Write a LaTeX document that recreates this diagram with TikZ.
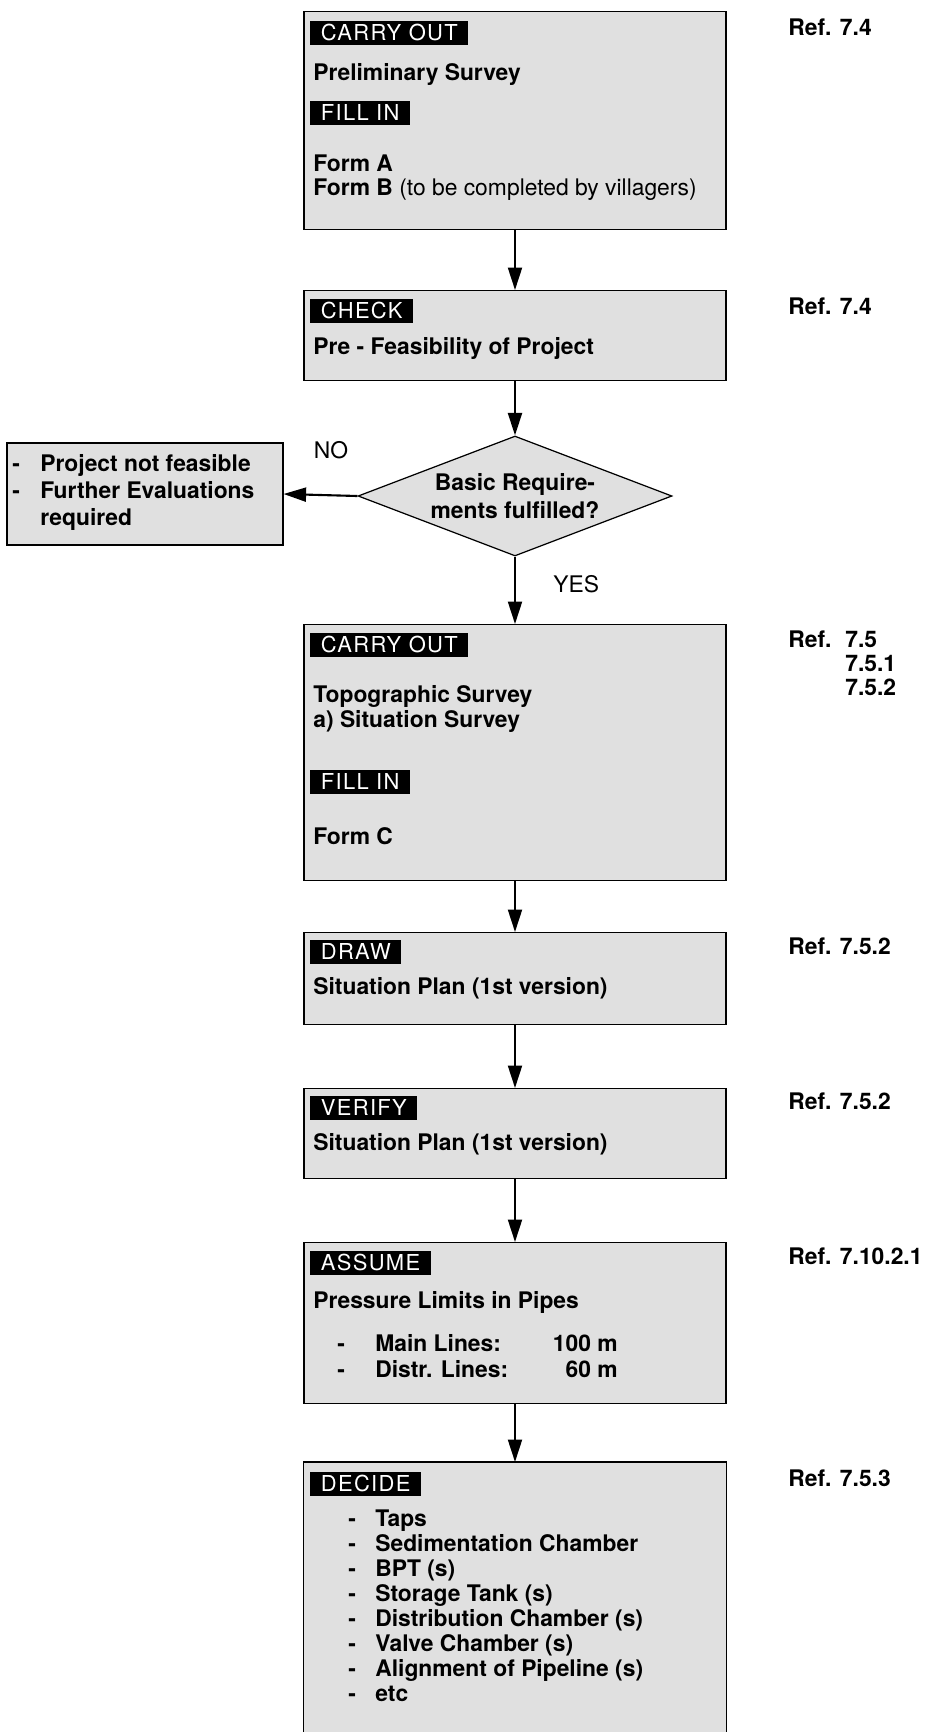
\documentclass[tikz,border=0pt]{standalone}
\usepackage{fontspec}
\setmainfont{TeX Gyre Heros}
\newfontfamily\tagfont[LetterSpace=6]{TeX Gyre Heros}
\usetikzlibrary{arrows.meta,shapes.geometric}
\definecolor{stipple}{gray}{0.88}
\tikzset{
panel/.style={
	draw=black,
	line width=0.7pt,
	fill=stipple,
	inner sep=0pt,
	minimum width=8.44cm,
	anchor=north
},
tagbox/.style={fill=black, text=white, font=\tagfont\fontsize{12.5}{15}\selectfont,
	anchor=west, inner xsep=6pt, inner ysep=2.4pt, text height=9pt, text depth=0pt},
body/.style={font=\bfseries\fontsize{13}{15.5}\selectfont, anchor=mid west, inner sep=0pt},
plain/.style={font=\fontsize{13}{15.5}\selectfont, anchor=mid west, inner sep=0pt},
refnote/.style={font=\bfseries\fontsize{13}{15.5}\selectfont, anchor=mid west, inner sep=0pt},
flowarrow/.style={-{Triangle[length=4.5mm,width=2.8mm]}, line width=1.2pt, draw=black}
}

\begin{document}
\begin{tikzpicture}[x=0.02cm,y=-0.02cm]
\useasboundingbox (0,0) rectangle (928,1732);

% ── Preliminary survey ─────────────────────────────────────────
\node[panel, minimum height=4.36cm] (survey) at (515,11) {};
\node[tagbox] (carryA) at (310,33) {CARRY OUT};
\node[body] (prelim) at (313,76) {Preliminary Survey};
\node[tagbox] (fillA) at (310,113) {FILL IN};
\node[body] (formA) at (313,167) {Form A};
\node[body] (formB) at (313,191) {Form B {\mdseries (to be completed by villagers)}};
\node[refnote] (refA) at (788,31) {Ref. 7.4};

% ── Check ──────────────────────────────────────────────────────
\node[panel, minimum height=1.8cm] (check) at (515,290) {};
\node[tagbox] (checktag) at (310,311) {CHECK};
\node[body] (prefeas) at (313,350) {Pre - Feasibility of Project};
\node[refnote] (refB) at (788,310) {Ref. 7.4};

% ── Decision ───────────────────────────────────────────────────
\node[diamond, draw=black, line width=0.7pt, fill=stipple, aspect=2.6,
 minimum width=6.28cm, minimum height=2.4cm, inner sep=0pt, align=center,
 font=\bfseries\fontsize{13}{15.5}\selectfont] (basic) at (515,496)
 {Basic Require-\\ments fulfilled?};
\node[panel, anchor=center, minimum width=5.52cm, minimum height=2.04cm] (notfeas) at (145,494) {};
\node[body] (nfA) at (12,467) {\makebox[0.56cm][l]{-}Project not feasible};
\node[body] (nfB) at (12,494) {\makebox[0.56cm][l]{-}Further Evaluations};
\node[body] (nfC) at (40,521) {required};
\node[plain, anchor=center] (no) at (331,450) {NO};
\node[plain] (yes) at (553,588) {YES};

% ── Topographic survey ─────────────────────────────────────────
\node[panel, minimum height=5.12cm] (topo) at (515,624) {};
\node[tagbox] (carryB) at (310,645) {CARRY OUT};
\node[body] (topoA) at (313,698) {Topographic Survey};
\node[body] (topoB) at (313,723) {a) Situation Survey};
\node[tagbox] (fillB) at (310,782) {FILL IN};
\node[body] (formC) at (313,840) {Form C};
\node[refnote] (refC) at (788,643) {Ref.};
\node[refnote] (refCa) at (845,643) {7.5};
\node[refnote] (refCb) at (845,667) {7.5.1};
\node[refnote] (refCc) at (845,691) {7.5.2};

% ── Draw / verify situation plan ───────────────────────────────
\node[panel, minimum height=1.84cm] (drawplan) at (515,932) {};
\node[tagbox] (drawtag) at (310,952) {DRAW};
\node[body] (planA) at (313,990) {Situation Plan (1st version)};
\node[refnote] (refD) at (788,950) {Ref. 7.5.2};

\node[panel, minimum height=1.8cm] (verify) at (515,1088) {};
\node[tagbox] (verifytag) at (310,1108) {VERIFY};
\node[body] (planB) at (313,1146) {Situation Plan (1st version)};
\node[refnote] (refE) at (788,1105) {Ref. 7.5.2};

% ── Assume pressure limits ─────────────────────────────────────
\node[panel, minimum height=3.22cm] (assume) at (515,1242) {};
\node[tagbox] (assumetag) at (310,1263) {ASSUME};
\node[body] (press) at (313,1304) {Pressure Limits in Pipes};
\node[body] (mainl) at (337,1347) {\makebox[0.76cm][l]{-}Main Lines:};
\node[body, anchor=mid east] (mainv) at (618,1347) {100 m};
\node[body] (distl) at (337,1373) {\makebox[0.76cm][l]{-}Distr. Lines:};
\node[body, anchor=mid east] (distv) at (618,1373) {60 m};
\node[refnote] (refF) at (788,1260) {Ref. 7.10.2.1};

% ── Decide (runs off the page) ─────────────────────────────────
\node[panel, draw=none, minimum height=5.4cm] (decide) at (515,1462) {};
\draw[line width=0.7pt] (decide.south west) -- (decide.north west)
 -- (decide.north east) -- (decide.south east);
\node[tagbox] (decidetag) at (310,1484) {DECIDE};
\node[body] (decA) at (348,1522) {\makebox[0.54cm][l]{-}Taps};
\node[body] (decB) at (348,1547) {\makebox[0.54cm][l]{-}Sedimentation Chamber};
\node[body] (decC) at (348,1572) {\makebox[0.54cm][l]{-}BPT (s)};
\node[body] (decD) at (348,1597) {\makebox[0.54cm][l]{-}Storage Tank (s)};
\node[body] (decE) at (348,1622) {\makebox[0.54cm][l]{-}Distribution Chamber (s)};
\node[body] (decF) at (348,1647) {\makebox[0.54cm][l]{-}Valve Chamber (s)};
\node[body] (decG) at (348,1672) {\makebox[0.54cm][l]{-}Alignment of Pipeline (s)};
\node[body] (decH) at (348,1697) {\makebox[0.54cm][l]{-}etc};
\node[refnote] (refG) at (788,1482) {Ref. 7.5.3};

% ── Flow ───────────────────────────────────────────────────────
\draw[flowarrow] (survey.south) -- (check.north);
\draw[flowarrow] (check.south) -- (basic.north);
\draw[flowarrow] (basic.west) -- (notfeas.east);
\draw[flowarrow] (basic.south) -- (topo.north);
\draw[flowarrow] (topo.south) -- (drawplan.north);
\draw[flowarrow] (drawplan.south) -- (verify.north);
\draw[flowarrow] (verify.south) -- (assume.north);
\draw[flowarrow] (assume.south) -- (decide.north);
\end{tikzpicture}
\end{document}
